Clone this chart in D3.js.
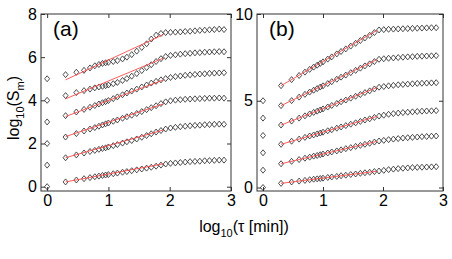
<!DOCTYPE html>
<html>
<head>
<meta charset="utf-8">
<script src="https://cdn.jsdelivr.net/npm/d3@7"></script>
<style>
  html, body { margin: 0; padding: 0; background: #fff; }
  text { font-family: "Liberation Sans", Arial, sans-serif; }
</style>
</head>
<body>
<div id="chart"></div>
<script>
// log10(tau) positions shared by every series (tau = 1 at x = 0)
const logTau = [0, 0.301, 0.477, 0.602, 0.699, 0.778, 0.845, 0.903, 0.954, 1.0,
  1.079, 1.146, 1.23, 1.301, 1.38, 1.462, 1.544, 1.623, 1.699, 1.778, 1.857,
  1.934, 2.013, 2.093, 2.173, 2.253, 2.332, 2.412, 2.491, 2.571, 2.649, 2.728, 2.808, 2.886];

// panel (a): log10(S_m), bottom row to top row
const seriesA = [
  [0, 0.22, 0.31, 0.37, 0.42, 0.46, 0.49, 0.52, 0.54, 0.56, 0.60, 0.63, 0.67, 0.70, 0.74, 0.78, 0.82, 0.86, 0.90, 0.95, 1.00, 1.05, 1.08, 1.10, 1.12, 1.14, 1.16, 1.17, 1.18, 1.20, 1.21, 1.22, 1.23, 1.23],
  [1, 1.34, 1.47, 1.56, 1.63, 1.68, 1.73, 1.77, 1.80, 1.84, 1.90, 1.95, 2.02, 2.08, 2.14, 2.21, 2.29, 2.37, 2.45, 2.53, 2.60, 2.67, 2.72, 2.75, 2.78, 2.80, 2.82, 2.84, 2.85, 2.87, 2.88, 2.89, 2.90, 2.89],
  [2, 2.30, 2.46, 2.58, 2.67, 2.74, 2.80, 2.86, 2.91, 2.95, 3.03, 3.09, 3.17, 3.24, 3.31, 3.39, 3.48, 3.57, 3.66, 3.75, 3.85, 3.93, 3.98, 4.01, 4.03, 4.05, 4.06, 4.07, 4.08, 4.09, 4.10, 4.10, 4.11, 4.10],
  [3, 3.29, 3.46, 3.58, 3.68, 3.76, 3.83, 3.89, 3.94, 3.99, 4.08, 4.16, 4.26, 4.34, 4.43, 4.52, 4.62, 4.71, 4.80, 4.88, 4.95, 5.01, 5.06, 5.10, 5.13, 5.16, 5.18, 5.20, 5.22, 5.23, 5.25, 5.26, 5.27, 5.28],
  [4, 4.22, 4.36, 4.45, 4.52, 4.58, 4.62, 4.65, 4.68, 4.71, 4.77, 4.83, 4.92, 5.01, 5.12, 5.24, 5.38, 5.52, 5.65, 5.80, 5.93, 6.03, 6.08, 6.11, 6.14, 6.16, 6.18, 6.20, 6.21, 6.23, 6.24, 6.25, 6.26, 6.25],
  [5, 5.19, 5.30, 5.39, 5.50, 5.60, 5.66, 5.71, 5.74, 5.76, 5.80, 5.84, 5.92, 6.00, 6.12, 6.28, 6.45, 6.62, 6.84, 7.02, 7.10, 7.14, 7.15, 7.16, 7.17, 7.19, 7.20, 7.22, 7.24, 7.25, 7.27, 7.28, 7.30, 7.28]
];

// panel (b)
const seriesB = [
  [0, 0.24, 0.32, 0.37, 0.41, 0.45, 0.48, 0.50, 0.52, 0.54, 0.58, 0.61, 0.64, 0.68, 0.71, 0.75, 0.78, 0.82, 0.85, 0.88, 0.92, 0.95, 0.99, 1.03, 1.06, 1.09, 1.11, 1.13, 1.15, 1.16, 1.17, 1.18, 1.19, 1.20],
  [1, 1.37, 1.51, 1.61, 1.69, 1.75, 1.81, 1.85, 1.89, 1.93, 1.99, 2.05, 2.11, 2.17, 2.24, 2.30, 2.37, 2.43, 2.49, 2.55, 2.62, 2.68, 2.72, 2.76, 2.79, 2.82, 2.85, 2.87, 2.89, 2.91, 2.93, 2.94, 2.96, 2.97],
  [2, 2.49, 2.67, 2.79, 2.89, 2.97, 3.03, 3.09, 3.14, 3.19, 3.27, 3.33, 3.42, 3.49, 3.57, 3.65, 3.73, 3.81, 3.89, 3.96, 4.04, 4.12, 4.17, 4.22, 4.26, 4.29, 4.32, 4.34, 4.36, 4.38, 4.40, 4.41, 4.42, 4.43],
  [3, 3.60, 3.83, 4.00, 4.13, 4.24, 4.33, 4.40, 4.47, 4.53, 4.64, 4.73, 4.84, 4.94, 5.04, 5.15, 5.26, 5.36, 5.47, 5.57, 5.68, 5.78, 5.82, 5.86, 5.89, 5.92, 5.94, 5.96, 5.98, 6.00, 6.01, 6.02, 6.03, 6.04],
  [4, 4.72, 5.01, 5.21, 5.37, 5.50, 5.61, 5.70, 5.79, 5.86, 5.99, 6.10, 6.24, 6.36, 6.48, 6.62, 6.75, 6.88, 7.01, 7.13, 7.26, 7.39, 7.42, 7.45, 7.47, 7.49, 7.51, 7.53, 7.54, 7.56, 7.57, 7.58, 7.59, 7.60],
  [5, 5.87, 6.22, 6.46, 6.65, 6.81, 6.94, 7.05, 7.15, 7.24, 7.40, 7.53, 7.70, 7.84, 7.99, 8.15, 8.31, 8.47, 8.62, 8.77, 8.93, 9.08, 9.10, 9.12, 9.13, 9.14, 9.15, 9.16, 9.17, 9.18, 9.19, 9.20, 9.21, 9.21]
];

// red fit lines: [value at fitRange[0], value at fitRange[1]]
const fitRange = [0.301, 1.9];
const fitA = [[0.22, 1.06], [1.34, 2.63], [2.32, 3.84], [3.25, 4.95], [4.07, 5.96], [4.95, 7.05]];
const fitB = [[0.24, 0.94], [1.37, 2.66], [2.49, 4.10], [3.60, 5.76], [4.72, 7.37], [5.87, 9.06]];

const xTicks = [0, 1, 2, 3];
const yTicksA = [0, 2, 4, 6, 8];
const yTicksB = [0, 5, 10];

const W = 452, H = 259;
const svg = d3.select('#chart').append('svg')
  .attr('width', W).attr('height', H);

const plotTop = 14, plotBottom = 191;

function drawPanel(left, right, yMax, yTicks, series, fits, tag) {
  const x = d3.scaleLinear().domain([-0.1, 3]).range([left, right]);
  const y = d3.scaleLinear().domain([-0.2, yMax]).range([plotBottom, plotTop]);
  const g = svg.append('g');

  // inward ticks on all four sides
  const fmt = d3.format('d');
  const axes = [
    [d3.axisBottom(x).tickValues(xTicks).tickFormat(fmt), `translate(0,${plotBottom})`],
    [d3.axisTop(x).tickValues(xTicks).tickFormat(''), `translate(0,${plotTop})`],
    [d3.axisLeft(y).tickValues(yTicks).tickFormat(fmt), `translate(${left},0)`],
    [d3.axisRight(y).tickValues(yTicks).tickFormat(''), `translate(${right},0)`]
  ];
  axes.forEach(([ax, tr]) => {
    const a = g.append('g').attr('transform', tr)
      .call(ax.tickSizeInner(-4).tickSizeOuter(0).tickPadding(4));
    a.select('.domain').remove();
    a.selectAll('line').attr('stroke', '#333');
    a.selectAll('text').attr('fill', '#000').style('font-size', '16px');
  });

  g.append('rect')
    .attr('x', left).attr('y', plotTop)
    .attr('width', right - left).attr('height', plotBottom - plotTop)
    .attr('fill', 'none').attr('stroke', '#333').attr('stroke-width', 1);

  // diamonds
  const diamond = 'M0,-3L2.5,0L0,3L-2.5,0Z';
  series.forEach(s => {
    g.append('g').selectAll('path')
      .data(s)
      .enter()
      .append('path')
      .attr('d', diamond)
      .attr('transform', (d, i) => `translate(${x(logTau[i])},${y(d)})`)
      .attr('fill', 'none')
      .attr('stroke', '#222')
      .attr('stroke-width', 0.8);
  });

  // fit lines
  const line = d3.line().x(d => x(d[0])).y(d => y(d[1]));
  fits.forEach(f => {
    g.append('path')
      .attr('d', line([[fitRange[0], f[0]], [fitRange[1], f[1]]]))
      .attr('fill', 'none')
      .attr('stroke', '#ff4b4b')
      .attr('stroke-width', 0.9);
  });

  g.append('text')
    .attr('x', left + 12).attr('y', 36)
    .style('font-size', '21px')
    .text(tag);
}

drawPanel(41, 231, 8, yTicksA, seriesA, fitA, '(a)');
drawPanel(257, 443, 10, yTicksB, seriesB, fitB, '(b)');

// y label
const yl = svg.append('text')
  .attr('transform', 'translate(19,108) rotate(-90)')
  .attr('text-anchor', 'middle')
  .style('font-size', '16px');
yl.append('tspan').text('log');
yl.append('tspan').attr('dy', 5).style('font-size', '11px').text('10');
yl.append('tspan').attr('dy', -5).text('(S');
yl.append('tspan').attr('dy', 5).style('font-size', '11px').text('m');
yl.append('tspan').attr('dy', -5).text(')');

// x label
const xl = svg.append('text')
  .attr('x', 244).attr('y', 232)
  .attr('text-anchor', 'middle')
  .style('font-size', '16px');
xl.append('tspan').text('log');
xl.append('tspan').attr('dy', 5).style('font-size', '11px').text('10');
xl.append('tspan').attr('dy', -5).text('(τ [min])');
</script>
</body>
</html>
